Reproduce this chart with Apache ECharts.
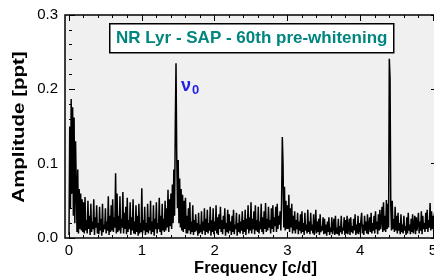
<!DOCTYPE html>
<html>
<head>
<meta charset="utf-8">
<script src="https://cdn.jsdelivr.net/npm/echarts@6/dist/echarts.min.js"></script>
<style>
  html, body { margin: 0; padding: 0; background: #fff; }
  #chart { width: 434px; height: 278px; }
</style>
</head>
<body>
<div id="chart"></div>
<script>
// amplitude spectrum, in units of 0.001 ppt, one value per 0.01 c/d
const freqStep = 0.01;
const ampMilliPpt = [
  4,150,40,187,60,176,30,162,20,130,
  70,8,92,6,66,12,60,10,52,8,
  48,6,55,10,24,6,50,12,30,4,
  46,8,22,12,52,4,28,14,44,6,
  20,5,42,10,26,3,46,8,18,12,
  40,6,22,10,56,4,30,8,44,10,
  52,8,28,14,87,6,60,8,30,10,
  56,6,26,14,62,6,34,12,42,5,
  54,8,24,12,48,4,28,10,52,6,
  22,5,44,8,30,3,46,6,20,8,
  67,6,24,10,42,4,20,8,46,6,
  28,10,50,5,22,8,44,3,26,12,
  48,6,20,12,54,8,30,4,46,10,
  26,8,50,10,40,14,65,8,52,16,
  60,12,72,20,92,30,150,235,110,40,
  105,20,80,14,66,10,58,8,50,12,
  54,6,30,6,40,10,48,5,22,8,
  44,4,24,8,32,10,20,3,34,6,
  18,8,36,5,22,10,40,4,26,8,
  38,6,20,10,42,3,24,8,40,5,
  22,10,44,6,28,4,32,12,42,8,
  24,5,30,12,40,3,20,8,38,6,
  32,10,22,4,30,8,38,5,18,12,
  34,3,20,8,32,6,22,10,36,5,
  24,8,38,4,26,12,44,6,28,10,
  48,6,26,12,36,5,44,10,24,8,
  42,6,22,12,46,8,28,5,36,12,
  47,8,26,10,42,14,24,6,40,12,
  44,8,28,16,42,8,46,12,30,18,
  36,10,47,136,100,14,69,10,50,12,
  44,12,58,8,40,14,46,6,30,10,
  36,6,24,12,34,5,22,10,32,6,
  36,8,20,4,34,10,18,6,38,8,
  22,5,34,10,18,6,32,4,14,38,
  6,22,8,26,4,32,8,16,10,28,
  5,26,6,18,3,22,8,28,4,14,
  8,28,5,16,26,4,30,6,14,5,
  26,3,16,8,30,5,14,10,28,4,
  24,6,30,5,14,26,4,28,8,16,
  6,26,10,32,4,18,6,30,5,20,
  8,24,34,6,18,4,30,10,22,6,
  32,5,16,28,8,34,6,20,10,30,
  6,36,12,22,5,32,10,38,12,24,
  42,8,48,10,30,8,51,12,46,14,
  241,215,44,10,50,12,26,8,42,10,
  30,6,34,10,20,5,32,8,18,6,
  30,10,16,4,28,6,34,10,18,5,
  26,8,32,6,16,30,5,28,10,20,
  34,6,22,10,36,5,30,12,20,8,
  34,12,38,8,24,14,47,10,36,12,
  30,8,34,12,28,10
];

const xTicks = [0, 1, 2, 3, 4, 5];
const yTicks = [0.0, 0.1, 0.2, 0.3];
const titleText = "NR Lyr - SAP - 60th pre-whitening";
const xName = "Frequency [c/d]";
const yName = "Amplitude [ppt]";

const FONT = "'Liberation Sans', Arial, Helvetica, sans-serif";

const spectrum = ampMilliPpt.map((a, i) => [+(i * freqStep).toFixed(2), a / 1000]);

const chart = echarts.init(document.getElementById("chart"), null, { renderer: "canvas" });

const tickX = {
  type: "value",
  gridIndex: 1,
  min: xTicks[0],
  max: xTicks[xTicks.length - 1],
  interval: 1,
  axisLine: { show: false },
  axisTick: { show: true, inside: true, length: 6, lineStyle: { color: "#000", width: 1 } },
  minorTick: { show: true, splitNumber: 5, length: 3, lineStyle: { color: "#000", width: 1 } },
  splitLine: { show: false },
};

const tickY = {
  type: "value",
  gridIndex: 0,
  min: yTicks[0],
  max: yTicks[yTicks.length - 1],
  interval: 0.1,
  axisLine: { show: false },
  axisTick: { show: true, inside: true, length: 6, lineStyle: { color: "#000", width: 1 } },
  minorTick: { show: true, splitNumber: 5, length: 3, lineStyle: { color: "#000", width: 1 } },
  splitLine: { show: false },
};

const option = {
  animation: false,
  backgroundColor: "#fff",
  grid: [
    {
      left: 65, width: 372, top: 15, bottom: 40, outerBoundsMode: "none",
      show: true, backgroundColor: "#f0f0f0", borderColor: "#000", borderWidth: 1.5,
    },
    { left: 69, width: 364, top: 15, bottom: 40, outerBoundsMode: "none" },
  ],
  xAxis: [
    {
      type: "value", gridIndex: 0, min: -0.055, max: 5.055,
      axisLine: { show: false }, axisTick: { show: false },
      axisLabel: { show: false }, splitLine: { show: false },
    },
    Object.assign({}, tickX, {
      position: "bottom",
      axisLabel: { show: true, margin: 5, fontSize: 15, color: "#000", fontFamily: FONT },
    }),
    Object.assign({}, tickX, {
      position: "top",
      axisLabel: { show: false },
    }),
  ],
  yAxis: [
    Object.assign({}, tickY, {
      position: "left",
      axisLabel: {
        show: true, margin: 7, fontSize: 15, color: "#000", fontFamily: FONT,
        formatter: (v) => v.toFixed(1),
      },
    }),
    Object.assign({}, tickY, {
      position: "right",
      axisLabel: { show: false },
    }),
    { type: "value", gridIndex: 1, min: 0, max: 0.3, show: false },
  ],
  series: [
    {
      type: "line",
      xAxisIndex: 0,
      yAxisIndex: 0,
      data: spectrum,
      showSymbol: false,
      sampling: null,
      lineStyle: { color: "#000", width: 1.5 },
      z: 3,
    },
  ],
  graphic: [
    {
      type: "group",
      left: 109,
      top: 23,
      z: 10,
      children: [
        {
          type: "rect",
          shape: { x: 0, y: 0, width: 284, height: 29 },
          style: { fill: "#fff", stroke: "#000", lineWidth: 1.5 },
        },
        {
          type: "text",
          x: 142,
          y: 15,
          style: {
            text: titleText,
            font: "bold 17px " + FONT,
            fill: "#00857f",
            align: "center",
            verticalAlign: "middle",
          },
        },
      ],
    },
    {
      type: "text",
      left: 181,
      top: 77,
      z: 10,
      style: {
        text: "{nu|ν}{sub|0}",
        rich: {
          nu: { fontSize: 18, fontWeight: "bold", fill: "#1f1fe6", fontFamily: FONT },
          sub: { fontSize: 13, fontWeight: "bold", fill: "#1f1fe6", fontFamily: FONT, padding: [8, 0, 0, 1] },
        },
      },
    },
    {
      type: "text",
      x: 255.5,
      y: 268.5,
      z: 10,
      style: {
        text: xName,
        font: "bold 16.5px " + FONT,
        fill: "#000",
        align: "center",
        verticalAlign: "middle",
      },
    },
    {
      type: "text",
      x: 20,
      y: 127,
      rotation: Math.PI / 2,
      scaleX: 1.28,
      z: 10,
      style: {
        text: yName,
        font: "bold 16px " + FONT,
        fill: "#000",
        align: "center",
        verticalAlign: "middle",
      },
    },
  ],
};

chart.setOption(option);
</script>
</body>
</html>
